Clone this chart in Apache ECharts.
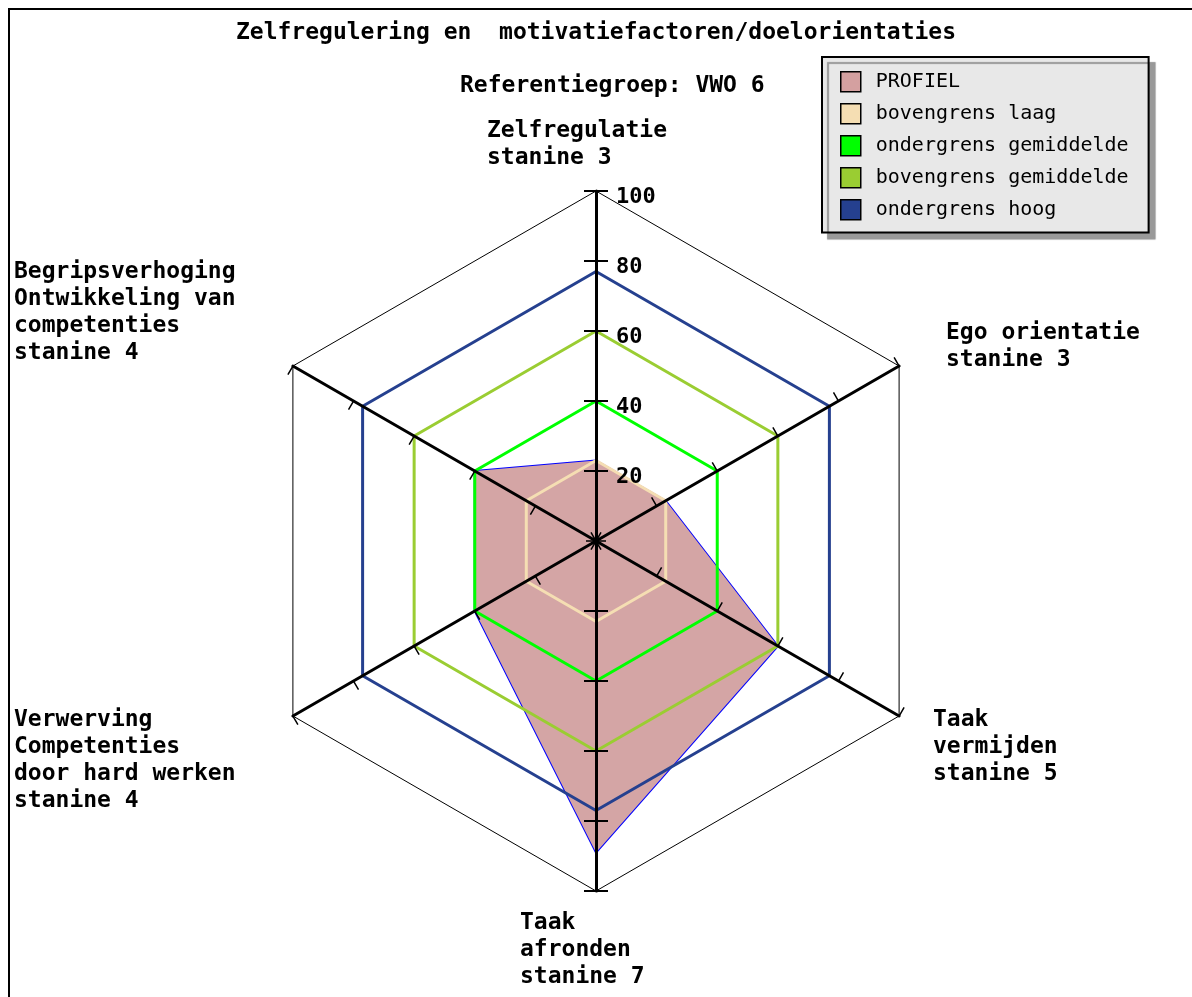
<!DOCTYPE html>
<html>
<head>
<meta charset="utf-8">
<script src="https://cdn.jsdelivr.net/npm/echarts@6/dist/echarts.min.js"></script>
<style>
  html, body { margin: 0; padding: 0; background: #fff; }
  #radar { width: 1192px; height: 997px; }
</style>
</head>
<body>
<div id="radar"></div>
<script>
// indicators, counter-clockwise from the top (ECharts radar order)
const indicators = ['Zelfregulatie', 'Begripsverhoging', 'Verwerving', 'Taak afronden', 'Taak vermijden', 'Ego orientatie'];
const profiel = [23, 40, 40, 89, 60, 23];
const bovengrensLaag = [23, 23, 23, 23, 23, 23];
const ondergrensGem = [40, 40, 40, 40, 40, 40];
const bovengrensGem = [60, 60, 60, 60, 60, 60];
const ondergrensHoog = [77, 77, 77, 77, 77, 77];
const seriesNames = ['PROFIEL', 'bovengrens laag', 'ondergrens gemiddelde', 'bovengrens gemiddelde', 'ondergrens hoog'];
const seriesColors = ['#d4a0a0', '#f5deb3', '#00ff00', '#9acd32', '#25408f'];
// axis name labels (text)
const axisLabels = [
  {text: 'Zelfregulatie\nstanine 3', left: 487, top: 118},
  {text: 'Ego orientatie\nstanine 3', left: 946, top: 320},
  {text: 'Taak\nvermijden\nstanine 5', left: 933, top: 707},
  {text: 'Taak\nafronden\nstanine 7', left: 520, top: 910},
  {text: 'Verwerving\nCompetenties\ndoor hard werken\nstanine 4', left: 14, top: 707},
  {text: 'Begripsverhoging\nOntwikkeling van\ncompetenties\nstanine 4', left: 14, top: 259}
];
const tickLabels = [20, 40, 60, 80, 100];
const tickMarks = [-100, -80, -60, -40, -20, 20, 40, 60, 80, 100];

const FONT = 'DejaVu Sans Mono';
let chart = echarts.init(document.getElementById('radar'));

let titles = [
  {text: 'Zelfregulering en  motivatiefactoren/doelorientaties', left: 'center', top: 17,
   textStyle: {fontFamily: FONT, fontSize: 23, fontWeight: 'bold', color: '#000'}},
  {text: 'Referentiegroep: VWO 6', left: 455, top: 70,
   textStyle: {fontFamily: FONT, fontSize: 23, fontWeight: 'bold', color: '#000'}}
];
axisLabels.forEach(l => {
  titles.push({text: l.text, left: l.left, top: l.top, padding: 0,
    textStyle: {fontFamily: FONT, fontSize: 23, fontWeight: 'bold', color: '#000', lineHeight: 27}});
});

let allData = [profiel, bovengrensLaag, ondergrensGem, bovengrensGem, ondergrensHoog];

let series = allData.map((d, i) => {
  let s = {
    name: seriesNames[i],
    type: 'radar',
    symbol: 'none',
    silent: true,
    z: 1,
    itemStyle: {color: seriesColors[i]},
    lineStyle: {color: seriesColors[i], width: 3},
    data: [{name: seriesNames[i], value: d}]
  };
  if (i === 0) {
    s.lineStyle = {color: '#0000ff', width: 2};
    s.areaStyle = {color: '#d4a5a5', opacity: 1};
  }
  return s;
});

// vertical value scale along the vertical axis (ticks on both sides)
series.push({type: 'line', data: [], xAxisIndex: 0, yAxisIndex: 0});

const clear = 'rgba(0,0,0,0)';

let option = {
  backgroundColor: '#fff',
  animation: false,
  title: titles,
  legend: {
    orient: 'vertical',
    left: 822,
    top: 57,
    icon: 'rect',
    itemWidth: 20,
    itemHeight: 20,
    itemGap: 10.5,
    padding: [14, 20, 12, 18],
    backgroundColor: '#e8e8e8',
    borderColor: '#000',
    borderWidth: 2,
    borderRadius: 0,
    shadowColor: '#999',
    shadowBlur: 1,
    shadowOffsetX: 6,
    shadowOffsetY: 6,
    textStyle: {fontFamily: FONT, fontSize: 20, color: '#000', padding: [0, 0, 0, 10]},
    data: seriesNames.map((n, i) => ({name: n, itemStyle: {color: seriesColors[i], borderColor: '#000', borderWidth: 1.5}}))
  },
  radar: {
    center: [596, 541],
    radius: 350,
    startAngle: 90,
    shape: 'polygon',
    splitNumber: 5,
    z: 5,
    indicator: indicators.map(n => ({name: n, min: 0, max: 100})),
    axisName: {show: false},
    axisLine: {lineStyle: {color: '#000', width: 3}},
    axisTick: {show: true, length: 10, lineStyle: {color: '#000', width: 1.5}},
    splitLine: {lineStyle: {color: [clear, clear, clear, clear, clear, '#000'], width: 1}},
    splitArea: {show: false}
  },
  grid: {left: 596, top: 191, width: 0, height: 700},
  xAxis: {type: 'value', show: false, min: 0, max: 1},
  yAxis: [
    {
      type: 'value', min: -100, max: 100, interval: 20, position: 'left', z: 6,
      axisLine: {show: false},
      splitLine: {show: false},
      axisTick: {show: true, inside: false, length: 12, customValues: tickMarks, lineStyle: {color: '#000', width: 2}},
      axisLabel: {inside: true, margin: 20,
        formatter: v => (tickLabels.indexOf(v) >= 0 ? '{v|' + v + '}' : ''),
        rich: {v: {fontFamily: FONT, fontSize: 22, fontWeight: 'bold', color: '#000', padding: [12, 0, 0, 0]}}}
    },
    {
      type: 'value', min: -100, max: 100, interval: 20, position: 'left', z: 6,
      axisLine: {show: false},
      splitLine: {show: false},
      axisTick: {show: true, inside: true, length: 12, customValues: tickMarks, lineStyle: {color: '#000', width: 2}},
      axisLabel: {show: false}
    }
  ],
  graphic: [{
    type: 'rect', silent: true,
    shape: {x: 9, y: 9, width: 1200, height: 1000},
    style: {fill: 'none', stroke: '#000', lineWidth: 2}
  }],
  series: series
};

chart.setOption(option);
</script>
</body>
</html>
